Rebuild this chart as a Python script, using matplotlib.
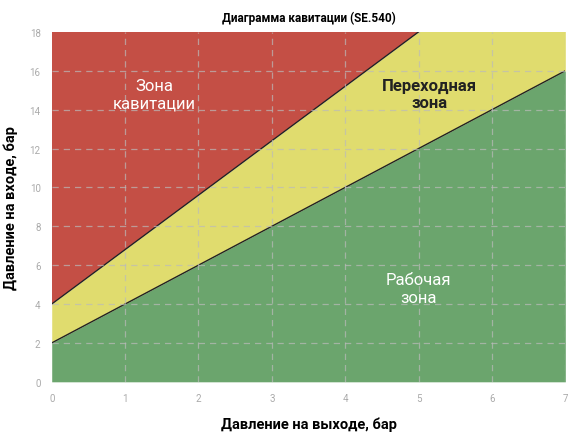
import matplotlib
matplotlib.use("Agg")
import matplotlib.pyplot as plt
import numpy as np

plt.rcParams['font.family'] = ['Roboto', 'DejaVu Sans']

x_pts = [0, 5, 7]
upper = [4, 18, 23.6]   # cavitation boundary
lower = [2, 12, 16]     # working zone boundary
title = "Диаграмма кавитации (SE.540)"

fig = plt.figure(figsize=(5.81, 4.39), dpi=100)
ax = fig.add_axes([0.089, 0.128, 0.884, 0.797])
x = np.array(x_pts, float)
ax.fill_between(x, upper, 30, color='#c44f45', lw=0)
ax.fill_between(x, lower, upper, color='#e0dc6e', lw=0)
ax.fill_between(x, 0, lower, color='#6ba56d', lw=0)
ax.plot(x, upper, color='#222', lw=1)
ax.plot(x, lower, color='#222', lw=1)
for v in range(1, 8):
    ax.axvline(v, color='#bbbbbb', ls=(0, (5, 4)), lw=0.9, alpha=0.7)
for v in range(2, 18, 2):
    ax.axhline(v, color='#bbbbbb', ls=(0, (5, 4)), lw=0.9, alpha=0.7)
ax.set_xlim(0, 7); ax.set_ylim(0, 18)
ax.set_xticks(range(8)); ax.set_yticks(range(0, 19, 2))
ax.tick_params(length=0, labelsize=7, colors='#aaaaaa', pad=8)
for s in ax.spines.values(): s.set_visible(False)
ax.set_title(title, fontsize=8.5, fontweight='bold', pad=8)
ax.set_xlabel("Давление на выходе, бар", fontsize=10.5, fontweight='bold', labelpad=10)
ax.set_ylabel("Давление на входе, бар", fontsize=10.5, fontweight='bold', labelpad=8)
ax.text(1.4, 14.8, "Зона\nкавитации", color='white', fontsize=12, ha='center', va='center', linespacing=1.2)
ax.text(5.15, 14.8, "Переходная\nзона", color='#222', fontsize=12, fontweight='bold', ha='center', va='center', linespacing=1.2)
ax.text(5.0, 4.8, "Рабочая\nзона", color='white', fontsize=12, ha='center', va='center', linespacing=1.2)
fig.savefig("out.png", dpi=100)
